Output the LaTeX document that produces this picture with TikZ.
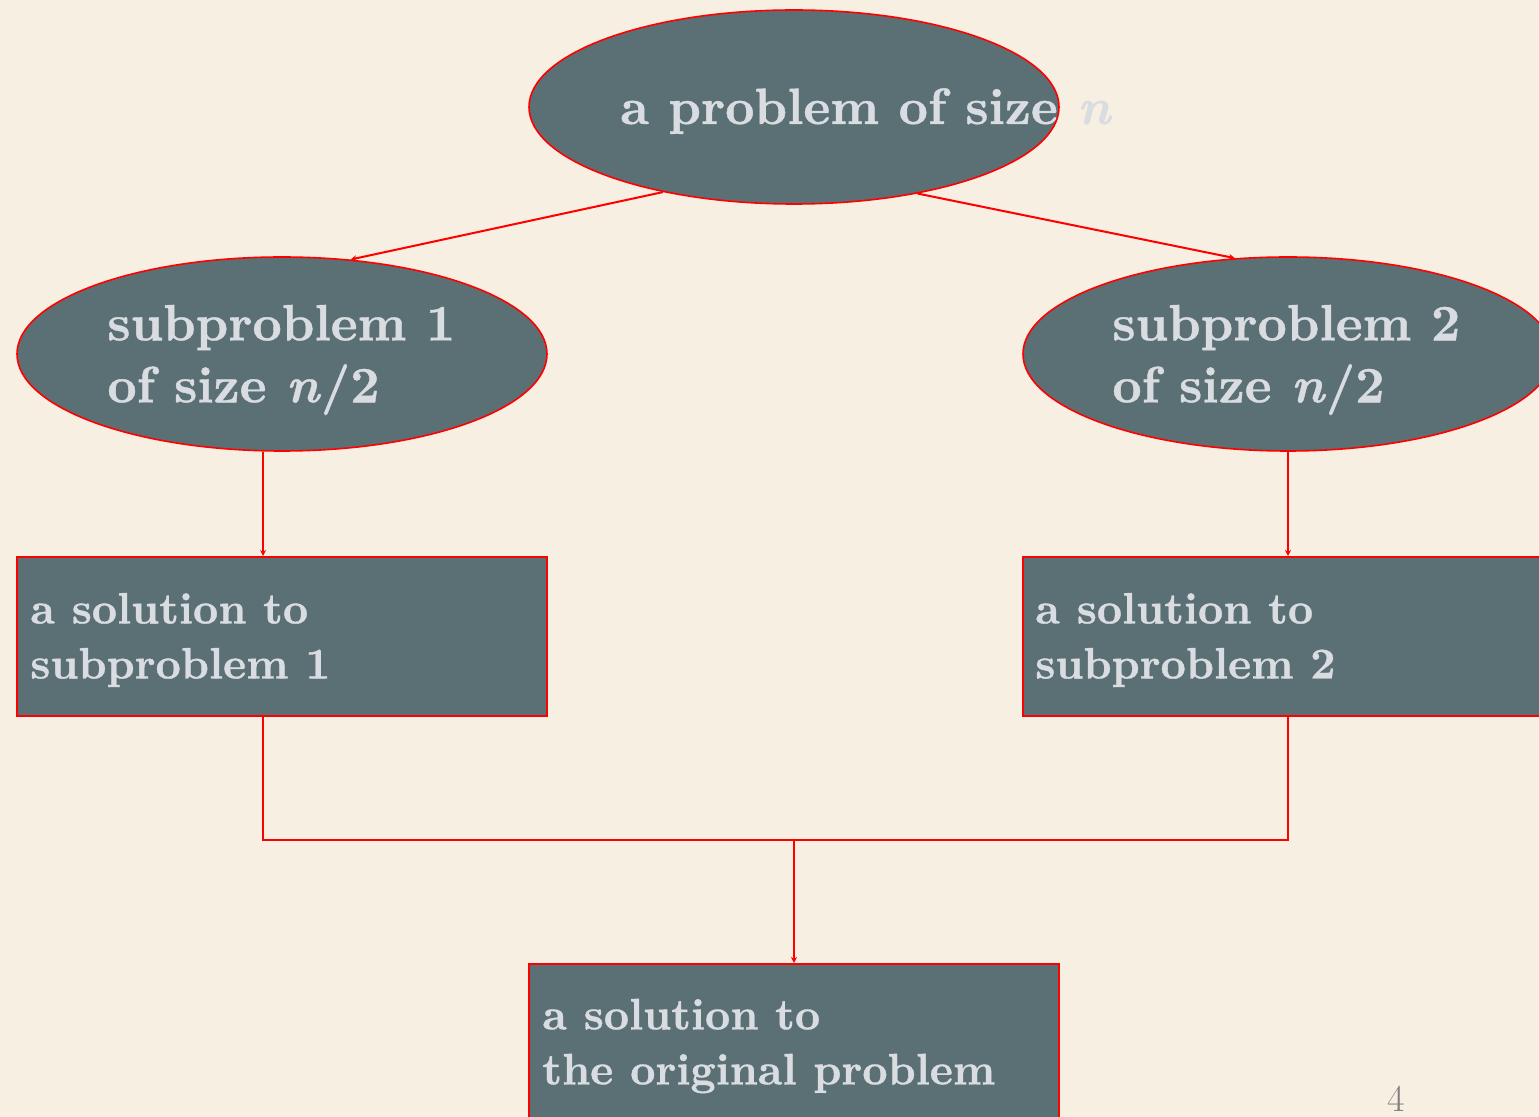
\documentclass[tikz,border=0pt]{standalone}
\usepackage{fontspec}
\newfontfamily\heavyfont[FakeBold=0.8,ItalicFont=lmroman10-bolditalic.otf,ItalicFeatures={FakeBold=0.8}]{lmroman10-bold.otf}
\usetikzlibrary{shapes.geometric,arrows.meta}
\definecolor{paper}{HTML}{F7EFE1}
\definecolor{slate}{HTML}{5B7075}
\definecolor{pale}{HTML}{D9DCE0}
\begin{document}
\begin{tikzpicture}[x=0.5pt,y=-0.5pt,
  blob/.style={ellipse,draw=red,fill=slate,line width=0.8pt,minimum width=265pt,minimum height=97pt,inner sep=0pt},
  panel/.style={rectangle,draw=red,fill=slate,line width=1pt,minimum width=265pt,minimum height=79.5pt,inner sep=0pt},
  bigtxt/.style={text=pale,font=\fontsize{25.5}{31}\selectfont\heavyfont,align=left,inner sep=0pt},
  boxtxt/.style={text=pale,font=\fontsize{22}{27.5}\selectfont\heavyfont,align=left,inner sep=0pt},
  wire/.style={red,line width=1pt},
  link/.style={wire,-{Stealth[length=3pt,width=3pt]}}]
  \clip (0,0) rectangle (1539,1117);
  \fill[paper] (0,0) rectangle (1539,1117);
  % the problem and its halves
  \node[blob] (top) at (794,107) {};
  \node[blob] (sub1) at (282,354) {};
  \node[blob] (sub2) at (1288,354) {};
  \node[bigtxt,anchor=base west] (toptxt) at (620,124) {a problem of size \textit{n}};
  \node[bigtxt,anchor=west] (sub1txt) at (107,360) {subproblem 1\\of size \textit{n}/2};
  \node[bigtxt,anchor=west] (sub2txt) at (1112,360) {subproblem 2\\of size \textit{n}/2};
  % the solutions
  \node[panel] (sol1) at (282,636.5) {};
  \node[panel] (sol2) at (1288,636.5) {};
  \node[panel] (final) at (794,1043.5) {};
  \node[boxtxt,anchor=west] (sol1txt) at (30,640) {a solution to\\subproblem 1};
  \node[boxtxt,anchor=west] (sol2txt) at (1035,640) {a solution to\\subproblem 2};
  \node[boxtxt,anchor=west] (finaltxt) at (542,1046) {a solution to\\the original problem};
  \node[text=black!50,font=\fontsize{19}{19}\selectfont,anchor=base,inner sep=0pt] (page) at (1396,1111) {4};
  % connectors
  \draw[link] (top.213) -- (sub1.54);
  \draw[link] (top.325) -- (sub2.119);
  \draw[link] (sub1.259) -- (sub1.259 |- sol1.north);
  \draw[link] (sub2.south) -- (sol2.north);
  \coordinate (join) at (794,840);
  \draw[wire] (sub1.259 |- sol1.south) |- (join) -| (sol2.south);
  \draw[link] (join) -- (final.north);
\end{tikzpicture}
\end{document}
